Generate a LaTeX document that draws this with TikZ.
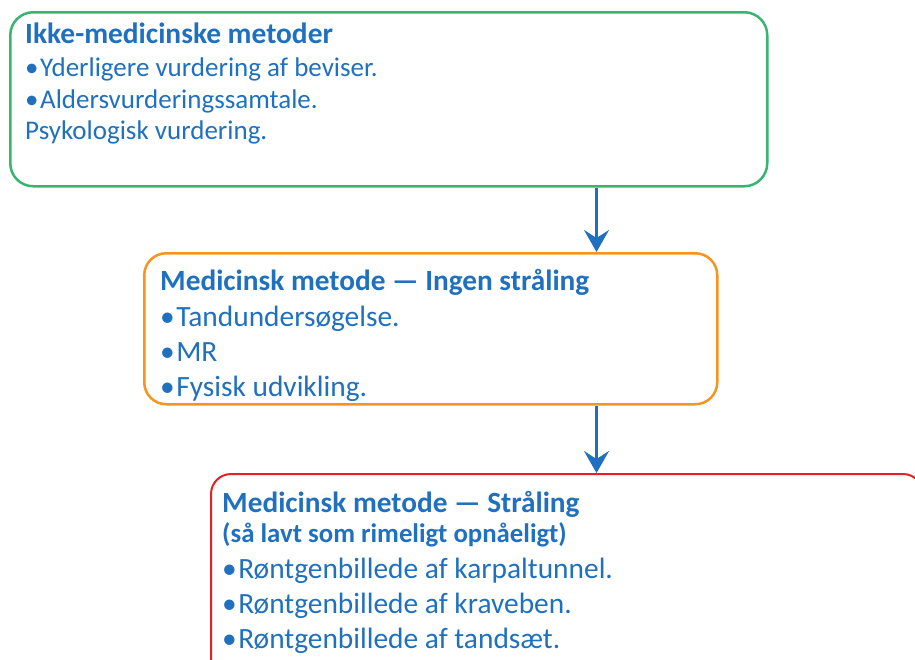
\documentclass[tikz,border=0pt]{standalone}
\usepackage{fontspec}
\setmainfont{Carlito}
\usetikzlibrary{arrows.meta}
\definecolor{txtblue}{RGB}{31,112,190}
\definecolor{boxgreen}{RGB}{56,182,112}
\definecolor{boxorange}{RGB}{247,148,30}
\definecolor{boxred}{RGB}{230,32,40}
\newcommand{\bul}{•\kern1.5pt}
\begin{document}
\begin{tikzpicture}[x=1pt,y=-1pt,
  panel/.style={draw, rounded corners=23pt, line width=2.5pt, inner sep=0pt, anchor=north west},
  ln/.style={anchor=base west, inner sep=0pt, text=txtblue},
  ttlA/.style={ln, font=\bfseries\fontsize{29.4}{32}\selectfont},
  bodyA/.style={ln, font=\fontsize{27}{30}\selectfont},
  ttlB/.style={ln, font=\bfseries\fontsize{29.3}{32}\selectfont},
  bodyB/.style={ln, font=\fontsize{29.4}{32}\selectfont},
  subB/.style={ln, font=\bfseries\fontsize{26.8}{30}\selectfont},
  arr/.style={draw=txtblue, line width=2.5pt, -{Stealth[length=22pt,width=25pt,inset=8pt]}}]
\useasboundingbox (0,0) rectangle (915,659);
\clip (0,0) rectangle (915,659);

% the three method panels
\node[panel, draw=boxgreen, minimum width=757pt, minimum height=174pt] (b1) at (9,11) {};
\node[panel, draw=boxorange, minimum width=573pt, minimum height=151pt, rounded corners=22pt] (b2) at (143,252) {};
\node[panel, draw=boxred, minimum width=712pt, minimum height=240pt, line width=2pt, rounded corners=20pt] (b3) at (210,473) {};

% non-medical methods
\node[ttlA] (t1) at (25,43) {Ikke-medicinske metoder};
\node[bodyA] (t1a) at (25,76) {\bul Yderligere vurdering af beviser.};
\node[bodyA] (t1b) at (25,108) {\bul Aldersvurderingssamtale.};
\node[bodyA] (t1c) at (25,139) {Psykologisk vurdering.};

% medical, no radiation
\node[ttlB] (t2) at (160,290) {Medicinsk metode — Ingen stråling};
\node[bodyB] (t2a) at (160,326) {\bul Tandundersøgelse.};
\node[bodyB] (t2b) at (160,361) {\bul MR};
\node[bodyB] (t2c) at (160,396) {\bul Fysisk udvikling.};

% medical, radiation
\node[ttlB] (t3) at (222,512) {Medicinsk metode — Stråling};
\node[subB] (t3s) at (222,542) {(så lavt som rimeligt opnåeligt)};
\node[bodyB] (t3a) at (222,578) {\bul Røntgenbillede af karpaltunnel.};
\node[bodyB] (t3b) at (222,613) {\bul Røntgenbillede af kraveben.};
\node[bodyB] (t3c) at (222,648) {\bul Røntgenbillede af tandsæt.};

% connectors
\coordinate (ax) at (596.5,0);
\draw[arr] (b1.south -| ax) -- (b2.north -| ax);
\draw[arr] (b2.south -| ax) -- (b3.north -| ax);
\end{tikzpicture}
\end{document}
